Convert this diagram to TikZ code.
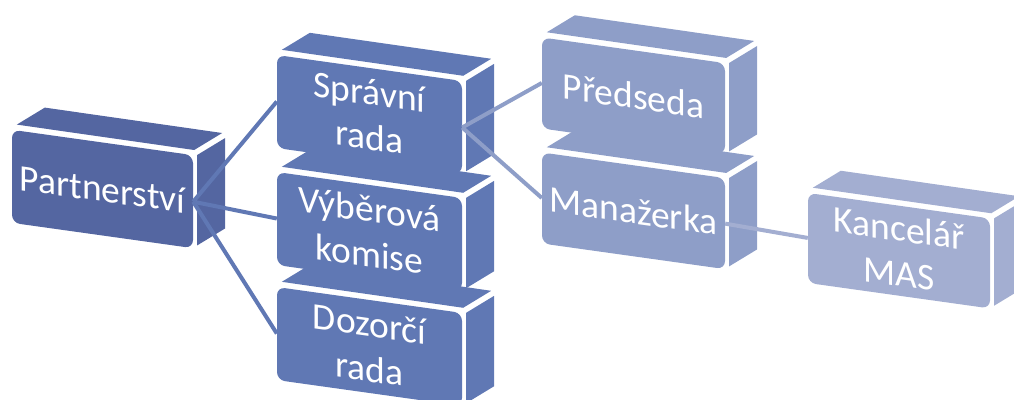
\documentclass[tikz,border=0pt]{standalone}
\usepackage{fontspec}
\setmainfont{Carlito}

\definecolor{boxA}{HTML}{5466A1}
\definecolor{boxB}{HTML}{6078B4}
\definecolor{boxC}{HTML}{8E9EC8}
\definecolor{boxD}{HTML}{A3AED1}

\begin{document}
\begin{tikzpicture}[x = 1pt, y = -1pt]
\tikzstyle{BoxStyle}=[
shape = rectangle,
rounded corners = 8pt,
minimum width = 183pt,
minimum height = 91pt,
inner sep = 0pt,
yslant = -0.14,
align = center,
text = white,
font = \fontsize{37.5}{45}\selectfont]
\tikzstyle{link}=[line width = 4pt]
\useasboundingbox (0,0) rectangle (1014,399);
\clip (0,0) rectangle (1014,399);
\node[BoxStyle, fill = boxA, minimum width = 181pt, minimum height = 93pt] (part) at (102.5, 189) {Partnerství};
\node[BoxStyle, fill = boxB, minimum width = 185pt, minimum height = 93pt] (spr) at (369.5, 114.5) {Správní\\rada};
\node[BoxStyle, fill = boxB, minimum width = 185pt, minimum height = 93pt] (vyb) at (369.5, 231.5) {Výběrová\\komise};
\node[BoxStyle, fill = boxB, minimum width = 185pt, minimum height = 93pt] (doz) at (369.5, 346.5) {Dozorčí\\rada};
\node[BoxStyle, fill = boxC] (pre) at (633.5, 95.8) {Předseda};
\node[BoxStyle, fill = boxC] (man) at (633.5, 210.8) {Manažerka};
\node[BoxStyle, fill = boxD, minimum width = 182pt, minimum height = 90pt] (kan) at (899, 250.7) {Kancelář\\MAS};
% top and right faces
\foreach \n/\c in {part/boxA, spr/boxB, vyb/boxB, doz/boxB, pre/boxC, man/boxC, kan/boxD}{
\fill[\c] ([shift={(5,-5)}]\n.north west) -- ([shift={(1,-5)}]\n.north east)
  -- ([shift={(29,-22)}]\n.north east) -- ([shift={(33,-22)}]\n.north west) -- cycle;
\fill[\c] ([shift={(4,0)}]\n.north east) -- ([shift={(32,-17)}]\n.north east)
  -- ([shift={(32,-20)}]\n.south east) -- ([shift={(4,-3)}]\n.south east) -- cycle;
}
\draw[link, boxB] (part.east) -- (spr.west);
\draw[link, boxB] (part.east) -- (vyb.west);
\draw[link, boxB] (part.east) -- (doz.west);
\draw[link, boxC] (spr.east) -- (pre.west);
\draw[link, boxC] (spr.east) -- (man.west);
\draw[link, boxD] (man.east) -- (kan.west);
\end{tikzpicture}
\end{document}
